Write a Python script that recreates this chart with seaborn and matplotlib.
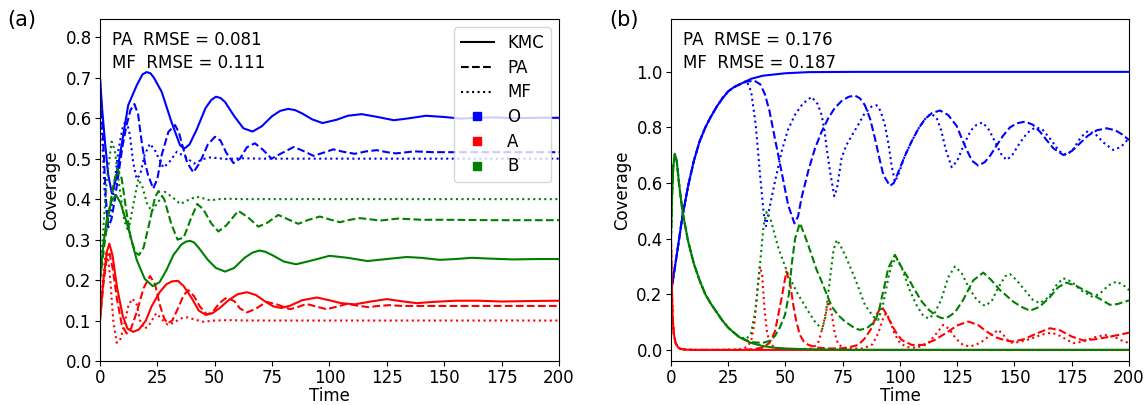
import pandas as pd
import matplotlib
matplotlib.use('Agg')
import matplotlib.pyplot as plt
from matplotlib.lines import Line2D
import seaborn as sns

# ---- panel (a) ----
o_kmc_a_t = [0, 1, 2.2, 3.6, 5.2, 7, 9.4, 12.3, 16, 18.5, 20.3, 22, 23.5, 26.9, 31.2, 34.9, 36.8, 39, 42, 46, 48.5, 50.5, 52.5,
             54.5, 58.5, 62.5, 66.5, 70.5, 75, 78.5, 82, 85, 88, 92.5, 97, 103, 108, 114, 121, 128, 135, 142, 150, 157, 165,
             172, 180, 190, 200]
o_kmc_a = [0.70, 0.62, 0.54, 0.46, 0.414, 0.45, 0.533, 0.632, 0.681, 0.708, 0.714, 0.711, 0.70, 0.665, 0.59, 0.533, 0.525,
           0.535, 0.57, 0.625, 0.645, 0.653, 0.65, 0.64, 0.605, 0.575, 0.567, 0.58, 0.605, 0.618, 0.623, 0.62, 0.612, 0.597,
           0.588, 0.596, 0.606, 0.610, 0.603, 0.595, 0.600, 0.606, 0.603, 0.599, 0.601, 0.602, 0.600, 0.601, 0.601]
o_pa_a_t = [0, 1.5, 2.6, 3.6, 5, 6.5, 8, 9.8, 11.6, 13.3, 15, 16.6, 18.2, 19.6, 21, 23.2, 25, 26.9, 29.8, 32.7, 34.4, 35.9, 38,
            40.7, 43.5, 47, 50.1, 52.5, 55, 58.2, 61, 64, 67.5, 71, 74.8, 79, 84.5, 89, 93, 97, 101.7, 106, 111, 116, 120.6,
            125, 129, 137, 145, 160, 180, 200]
o_pa_a = [0.70, 0.53, 0.40, 0.33, 0.35, 0.40, 0.459, 0.53, 0.583, 0.62, 0.635, 0.61, 0.541, 0.49, 0.459, 0.426, 0.45, 0.509,
          0.566, 0.583, 0.565, 0.533, 0.49, 0.466, 0.49, 0.535, 0.554, 0.545, 0.515, 0.489, 0.5, 0.528, 0.538, 0.522, 0.5,
          0.513, 0.529, 0.518, 0.507, 0.514, 0.523, 0.517, 0.512, 0.518, 0.521, 0.516, 0.513, 0.518, 0.516, 0.516, 0.516,
          0.516]
o_mf_a_t = [0, 1, 2, 3.3, 4.5, 6, 8, 10, 11.5, 13, 14.5, 16, 17.5, 19.5, 21.8, 24, 27.6, 30, 33.5, 37, 41, 45, 48, 55, 62, 70,
            200]
o_mf_a = [0.70, 0.55, 0.42, 0.345, 0.36, 0.42, 0.52, 0.58, 0.595, 0.56, 0.49, 0.45, 0.46, 0.51, 0.537, 0.52, 0.478, 0.49,
          0.517, 0.505, 0.488, 0.499, 0.503, 0.499, 0.501, 0.50, 0.50]

b_kmc_a_t = [0, 1.5, 3, 5, 7, 9, 12.3, 16, 19.5, 23, 26, 29, 32, 35.5, 37.5, 39.2, 41, 43, 47, 50.5, 54.5, 58.5, 63, 66.5,
             69.5, 72, 75, 80, 85.5, 92, 100, 108, 116.5, 125, 133.6, 140, 148, 155, 162, 170, 180, 190, 200]
b_kmc_a = [0.20, 0.29, 0.35, 0.395, 0.41, 0.39, 0.33, 0.25, 0.203, 0.185, 0.195, 0.225, 0.262, 0.288, 0.295, 0.297, 0.293,
           0.28, 0.25, 0.23, 0.221, 0.23, 0.255, 0.268, 0.273, 0.27, 0.262, 0.246, 0.239, 0.248, 0.26, 0.255, 0.247, 0.252,
           0.257, 0.255, 0.25, 0.252, 0.255, 0.253, 0.251, 0.252, 0.252]
b_pa_a_t = [0, 2, 4, 6, 7.7, 9.5, 11.5, 13.5, 15.5, 17, 19, 21.5, 24, 25.5, 28, 31, 33.8, 36.5, 39.5, 42.4, 45, 48.5, 51.6, 55,
            60.3, 64.5, 69, 73, 77.7, 82, 86.4, 91, 95.8, 100, 104.6, 109, 113.2, 118, 122, 130, 140, 150, 170, 200]
b_pa_a = [0.20, 0.29, 0.37, 0.44, 0.475, 0.45, 0.37, 0.30, 0.268, 0.262, 0.28, 0.34, 0.405, 0.42, 0.40, 0.34, 0.30, 0.305, 0.35,
          0.388, 0.375, 0.34, 0.32, 0.335, 0.371, 0.355, 0.332, 0.342, 0.361, 0.35, 0.339, 0.349, 0.357, 0.35, 0.343, 0.349,
          0.353, 0.35, 0.347, 0.352, 0.349, 0.349, 0.348, 0.348]
b_mf_a_t = [0, 1.5, 3, 5.1, 6.5, 8.5, 10.5, 12.3, 14, 16.7, 18.5, 20.5, 22.5, 25, 28.3, 31.5, 35, 38.5, 42, 45, 48, 52, 56,
            62, 200]
b_mf_a = [0.20, 0.33, 0.45, 0.542, 0.52, 0.43, 0.35, 0.32, 0.37, 0.45, 0.43, 0.39, 0.37, 0.39, 0.418, 0.405, 0.388, 0.398,
          0.406, 0.402, 0.397, 0.40, 0.401, 0.40, 0.40]

a_kmc_a_t = [0, 1.5, 3, 4.1, 5.5, 7.5, 10, 12, 14.5, 17, 20, 22.5, 26, 29, 31.5, 34, 36.5, 40, 43, 46, 49, 52, 56, 60, 64, 68,
             72, 75.5, 79, 83, 88, 94.5, 100, 105, 111, 118, 125, 131, 138, 145, 155, 165, 175, 185, 200]
a_kmc_a = [0.10, 0.2, 0.27, 0.29, 0.26, 0.18, 0.11, 0.08, 0.072, 0.078, 0.10, 0.135, 0.17, 0.19, 0.197, 0.198, 0.185, 0.155,
           0.125, 0.114, 0.118, 0.13, 0.15, 0.165, 0.17, 0.163, 0.147, 0.135, 0.131, 0.137, 0.15, 0.157, 0.15, 0.143, 0.14,
           0.147, 0.153, 0.148, 0.143, 0.146, 0.149, 0.149, 0.147, 0.148, 0.149]
a_pa_a_t = [0, 1.5, 3, 4.2, 5.5, 7.5, 9.5, 11.6, 13.5, 16, 19, 21.8, 24, 26, 28, 29.5, 31.5, 34, 36.5, 38.5, 41, 43.5, 46.5,
            49, 52, 55.2, 58.5, 61, 64, 67.5, 72.6, 77, 82.8, 86, 90, 94, 98.7, 103, 107.5, 112, 117, 121, 126, 132, 140, 160,
            200]
a_pa_a = [0.10, 0.19, 0.255, 0.265, 0.23, 0.15, 0.09, 0.068, 0.08, 0.12, 0.18, 0.21, 0.19, 0.14, 0.105, 0.093, 0.1, 0.13,
          0.163, 0.175, 0.16, 0.135, 0.115, 0.12, 0.143, 0.157, 0.148, 0.13, 0.12, 0.128, 0.146, 0.14, 0.128, 0.133, 0.141,
          0.135, 0.128, 0.134, 0.141, 0.137, 0.133, 0.136, 0.138, 0.136, 0.136, 0.136, 0.136]
a_mf_a_t = [0, 1.2, 2.5, 3.3, 4.5, 5.8, 7.3, 9, 11, 12.5, 14.2, 16, 17.5, 19.2, 21, 24.5, 27.5, 29.5, 32, 35, 38, 41, 45, 50,
            56, 65, 200]
a_mf_a = [0.10, 0.2, 0.265, 0.27, 0.2, 0.1, 0.045, 0.055, 0.1, 0.14, 0.154, 0.14, 0.1, 0.08, 0.085, 0.118, 0.1, 0.09, 0.094,
          0.105, 0.108, 0.103, 0.097, 0.1, 0.101, 0.1, 0.1]

# ---- panel (b) ----
o_early_t = [0, 1, 2.5, 5, 7.5, 10, 12.5, 15, 17.5, 20, 22.5, 25, 27.5, 30]
o_early = [0.2, 0.26, 0.34, 0.48, 0.59, 0.68, 0.75, 0.80, 0.84, 0.875, 0.905, 0.93, 0.945, 0.955]
b_early_t = [0, 0.5, 1, 1.7, 2.5, 3.5, 5, 7.5, 10, 12.5, 15, 17.5, 20, 22.5, 25, 27.5, 30]
b_early = [0.40, 0.56, 0.66, 0.705, 0.68, 0.60, 0.50, 0.39, 0.31, 0.25, 0.20, 0.165, 0.135, 0.105, 0.08, 0.062, 0.045]
a_early_t = [0, 0.3, 0.7, 1.2, 2, 3, 4, 6, 10, 20]
a_early = [0.40, 0.25, 0.12, 0.06, 0.025, 0.01, 0.004, 0.001, 0.0, 0.0]

o_kmc_b_t = [35, 40, 50, 60, 80, 200]
o_kmc_b = [0.975, 0.986, 0.995, 0.999, 1.0, 1.0]
o_pa_b_t = [33, 36.5, 39, 41, 43, 45.4, 48.3, 51.2, 53.9, 55.5, 57.1, 60, 62.9, 65.8, 68.7, 71.5, 74.5, 77.5, 80.3, 82.5,
            84.7, 87, 89.1, 91, 92.7, 95.6, 97.3, 99.3, 102, 105.1, 108, 110.9, 114, 117.5, 121, 124.8, 127, 129.1, 131.5,
            134.2, 137, 139.5, 142.2, 145, 148, 151, 154.6, 158, 161.1, 164, 167, 171.3, 175, 178.6, 182, 186, 190.3, 194,
            197, 200]
o_pa_b = [0.965, 0.968, 0.955, 0.92, 0.86, 0.76, 0.64, 0.52, 0.455, 0.48, 0.55, 0.645, 0.725, 0.785, 0.833, 0.87, 0.895, 0.91,
          0.915, 0.905, 0.88, 0.83, 0.76, 0.69, 0.63, 0.59, 0.6, 0.64, 0.695, 0.75, 0.795, 0.83, 0.852, 0.861, 0.845, 0.805,
          0.76, 0.72, 0.68, 0.663, 0.675, 0.70, 0.735, 0.77, 0.80, 0.815, 0.821, 0.81, 0.785, 0.755, 0.725, 0.701, 0.715,
          0.743, 0.77, 0.79, 0.797, 0.79, 0.775, 0.755]
o_mf_b_t = [33, 35, 37, 39, 40.5, 41.5, 43, 45.4, 48.3, 51, 54.1, 57.5, 61.4, 64, 65.8, 67, 68, 69.5, 71.3, 72.5, 74.5, 76.5,
            78.9, 81.8, 84.5, 87.6, 89.8, 91.5, 93.4, 95, 96.4, 97.8, 99.3, 102, 105.1, 108, 110.9, 113.5, 116, 118, 120,
            122.6, 125, 128, 131, 133.5, 136.1, 139, 142, 144.5, 146.6, 149, 152, 155.5, 159, 162, 166, 169.5, 172.5, 175.5,
            179, 182.2, 185.5, 189, 193.1, 196.5, 200]
o_mf_b = [0.968, 0.93, 0.81, 0.62, 0.49, 0.445, 0.51, 0.605, 0.713, 0.79, 0.845, 0.885, 0.91, 0.885, 0.845, 0.79, 0.725, 0.64,
          0.553, 0.58, 0.69, 0.735, 0.77, 0.81, 0.85, 0.875, 0.88, 0.86, 0.81, 0.74, 0.66, 0.605, 0.63, 0.695, 0.75, 0.795,
          0.83, 0.85, 0.835, 0.79, 0.72, 0.657, 0.68, 0.74, 0.79, 0.81, 0.818, 0.79, 0.74, 0.70, 0.683, 0.70, 0.74, 0.78, 0.80,
          0.795, 0.755, 0.715, 0.70, 0.72, 0.765, 0.788, 0.775, 0.745, 0.719, 0.73, 0.761]

b_kmc_b_t = [35, 40, 45, 50, 60, 80, 200]
b_kmc_b = [0.025, 0.014, 0.008, 0.005, 0.002, 0.0, 0.0]
b_pa_b_t = [35, 40, 43, 45.4, 47.5, 49.8, 51.5, 52.7, 54.2, 56.3, 58.5, 61.4, 63.5, 65.8, 68, 70.2, 73, 76, 80.3, 82.5, 85.5,
            89.1, 90.8, 92, 93.5, 94.9, 97.8, 100.5, 103.6, 106.5, 109.5, 112.5, 115.3, 118.2, 121, 124, 127.6, 132, 136.4,
            140, 143.6, 149.4, 153, 156.8, 161, 165.5, 169, 172.7, 177, 183, 188, 191.7, 195, 200]
b_pa_b = [0.028, 0.025, 0.032, 0.05, 0.08, 0.126, 0.2, 0.306, 0.40, 0.456, 0.41, 0.342, 0.29, 0.246, 0.2, 0.156, 0.125, 0.102,
          0.078, 0.072, 0.078, 0.102, 0.14, 0.186, 0.24, 0.294, 0.342, 0.30, 0.258, 0.215, 0.174, 0.145, 0.126, 0.114, 0.118,
          0.135, 0.18, 0.25, 0.278, 0.25, 0.216, 0.174, 0.155, 0.141, 0.155, 0.19, 0.225, 0.242, 0.23, 0.204, 0.18, 0.162,
          0.165, 0.178]
b_mf_b_t = [33, 35, 37, 39, 40.5, 41.8, 43.5, 46.9, 51.2, 55.6, 60, 63, 66, 67.5, 69.5, 71, 72.4, 74, 76, 80.3, 84.7, 88.3,
            90.5, 92.5, 94.9, 96.5, 98.5, 101, 104, 107.3, 110, 112.5, 115, 118, 121, 124, 127, 130, 133.5, 137.1, 140, 143,
            146, 148, 151, 155, 158, 161.1, 165, 168, 171.3, 175, 179, 183.7, 187, 191, 194.6, 198, 200]
b_mf_b = [0.04, 0.06, 0.15, 0.32, 0.45, 0.497, 0.47, 0.366, 0.27, 0.198, 0.138, 0.1, 0.075, 0.12, 0.26, 0.36, 0.396, 0.375,
          0.342, 0.258, 0.162, 0.12, 0.108, 0.16, 0.258, 0.31, 0.33, 0.29, 0.22, 0.16, 0.125, 0.112, 0.13, 0.18, 0.26, 0.30,
          0.275, 0.225, 0.18, 0.158, 0.175, 0.225, 0.265, 0.273, 0.25, 0.21, 0.18, 0.168, 0.19, 0.23, 0.258, 0.245, 0.215,
          0.192, 0.2, 0.232, 0.246, 0.23, 0.215]

a_kmc_b_t = [30, 200]
a_kmc_b = [0.0, 0.0]
a_pa_b_t = [30, 35, 40, 43, 45.4, 48.3, 50.4, 52, 53.4, 54.8, 56.3, 58, 60, 64, 70, 75, 78, 81.8, 84.5, 87.6, 90, 92, 94, 96.4,
            98.5, 100.7, 105.1, 110, 115, 120, 125, 129.8, 134, 138, 142, 146, 149.4, 154, 160, 165.5, 170, 175, 180, 185,
            190, 195, 200]
a_pa_b = [0.0, 0.002, 0.008, 0.025, 0.066, 0.186, 0.282, 0.24, 0.162, 0.1, 0.054, 0.03, 0.018, 0.008, 0.005, 0.006, 0.01,
          0.018, 0.04, 0.078, 0.13, 0.156, 0.13, 0.09, 0.06, 0.036, 0.018, 0.018, 0.035, 0.06, 0.088, 0.102, 0.09, 0.065,
          0.045, 0.034, 0.03, 0.038, 0.06, 0.078, 0.07, 0.048, 0.034, 0.038, 0.045, 0.053, 0.062]
a_mf_b_t = [30, 33, 35, 36.5, 37.8, 38.9, 39.8, 40.8, 42, 43.5, 46, 55, 62, 64.5, 66.5, 68.7, 70.2, 71.5, 73, 76, 84, 88, 90.5,
            92.5, 93.9, 95.5, 97.5, 100, 103, 107, 112, 116, 118.9, 121.5, 124.5, 127.5, 130.6, 135, 139, 143, 145.5, 148,
            152, 157, 162, 166.2, 170, 175.6, 180, 185, 189.5, 194, 197, 200]
a_mf_b = [0.002, 0.01, 0.03, 0.1, 0.22, 0.30, 0.27, 0.15, 0.06, 0.02, 0.005, 0.002, 0.005, 0.03, 0.09, 0.174, 0.13, 0.06, 0.02,
          0.005, 0.005, 0.02, 0.06, 0.11, 0.132, 0.11, 0.06, 0.025, 0.01, 0.008, 0.02, 0.06, 0.09, 0.075, 0.04, 0.018, 0.012,
          0.025, 0.05, 0.072, 0.05, 0.026, 0.028, 0.04, 0.055, 0.062, 0.05, 0.024, 0.03, 0.045, 0.054, 0.045, 0.033, 0.025]

rmse_a = ['PA  RMSE = 0.081', 'MF  RMSE = 0.111']
rmse_b = ['PA  RMSE = 0.176', 'MF  RMSE = 0.187']

colors = {'O': 'blue', 'A': 'red', 'B': 'green'}
dashes = {'KMC': '', 'PA': (3.7, 1.6), 'MF': (1, 1.65)}


def make_df(series):
    rows = []
    for sp, model, t, v in series:
        rows += [{'Time': a, 'Coverage': b, 'species': sp, 'model': model} for a, b in zip(t, v)]
    return pd.DataFrame(rows)


df_a = make_df([
    ('O', 'KMC', o_kmc_a_t, o_kmc_a), ('O', 'PA', o_pa_a_t, o_pa_a), ('O', 'MF', o_mf_a_t, o_mf_a),
    ('A', 'KMC', a_kmc_a_t, a_kmc_a), ('A', 'PA', a_pa_a_t, a_pa_a), ('A', 'MF', a_mf_a_t, a_mf_a),
    ('B', 'KMC', b_kmc_a_t, b_kmc_a), ('B', 'PA', b_pa_a_t, b_pa_a), ('B', 'MF', b_mf_a_t, b_mf_a),
])
df_b = make_df([
    ('O', 'KMC', o_early_t + o_kmc_b_t, o_early + o_kmc_b),
    ('O', 'PA', o_early_t + o_pa_b_t, o_early + o_pa_b),
    ('O', 'MF', o_early_t + o_mf_b_t, o_early + o_mf_b),
    ('A', 'KMC', a_early_t + a_kmc_b_t, a_early + a_kmc_b),
    ('A', 'PA', a_early_t + a_pa_b_t, a_early + a_pa_b),
    ('A', 'MF', a_early_t + a_mf_b_t, a_early + a_mf_b),
    ('B', 'KMC', b_early_t + b_kmc_b_t, b_early + b_kmc_b),
    ('B', 'PA', b_early_t + b_pa_b_t, b_early + b_pa_b),
    ('B', 'MF', b_early_t + b_mf_b_t, b_early + b_mf_b),
])

plt.rcParams['font.family'] = ['DejaVu Sans']
fig = plt.figure(figsize=(11.45, 4.05), dpi=100)
ax1 = fig.add_axes([0.0873, 0.1086, 0.4009, 0.8444])
ax2 = fig.add_axes([0.586, 0.1086, 0.4, 0.8444])

for ax, df in [(ax1, df_a), (ax2, df_b)]:
    sns.lineplot(data=df, x='Time', y='Coverage', hue='species', style='model', palette=colors, dashes=dashes,
                 hue_order=['O', 'A', 'B'], style_order=['KMC', 'PA', 'MF'], estimator=None, sort=True,
                 lw=1.5, legend=False, ax=ax)
    ax.set_xlim(0, 200)
    ax.set_xticks([0, 25, 50, 75, 100, 125, 150, 175, 200])
    ax.set_xlabel('Time', fontsize=12, labelpad=0)
    ax.set_ylabel('Coverage', fontsize=12)
    ax.tick_params(labelsize=12, pad=2.5)

ax1.set_ylim(0, 0.845)
ax1.set_yticks([0, 0.1, 0.2, 0.3, 0.4, 0.5, 0.6, 0.7, 0.8])
ax2.set_ylim(-0.04, 1.19)
ax2.set_yticks([0, 0.2, 0.4, 0.6, 0.8, 1.0])

for ax, txt in [(ax1, rmse_a), (ax2, rmse_b)]:
    ax.text(0.026, 0.965, txt[0], transform=ax.transAxes, fontsize=12, va='top', ha='left')
    ax.text(0.026, 0.897, txt[1], transform=ax.transAxes, fontsize=12, va='top', ha='left')

fig.text(0.006, 0.935, '(a)', fontsize=15)
fig.text(0.532, 0.935, '(b)', fontsize=15)

handles = [Line2D([], [], color='black', lw=1.5, ls='-'),
           Line2D([], [], color='black', lw=1.5, ls='--'),
           Line2D([], [], color='black', lw=1.5, ls=':')]
handles += [Line2D([], [], color=colors[s], marker='s', ls='', markersize=6) for s in ['O', 'A', 'B']]
ax1.legend(handles, ['KMC', 'PA', 'MF', 'O', 'A', 'B'], loc='upper right', fontsize=12, labelspacing=0.4)

fig.savefig('out.png', dpi=100)
